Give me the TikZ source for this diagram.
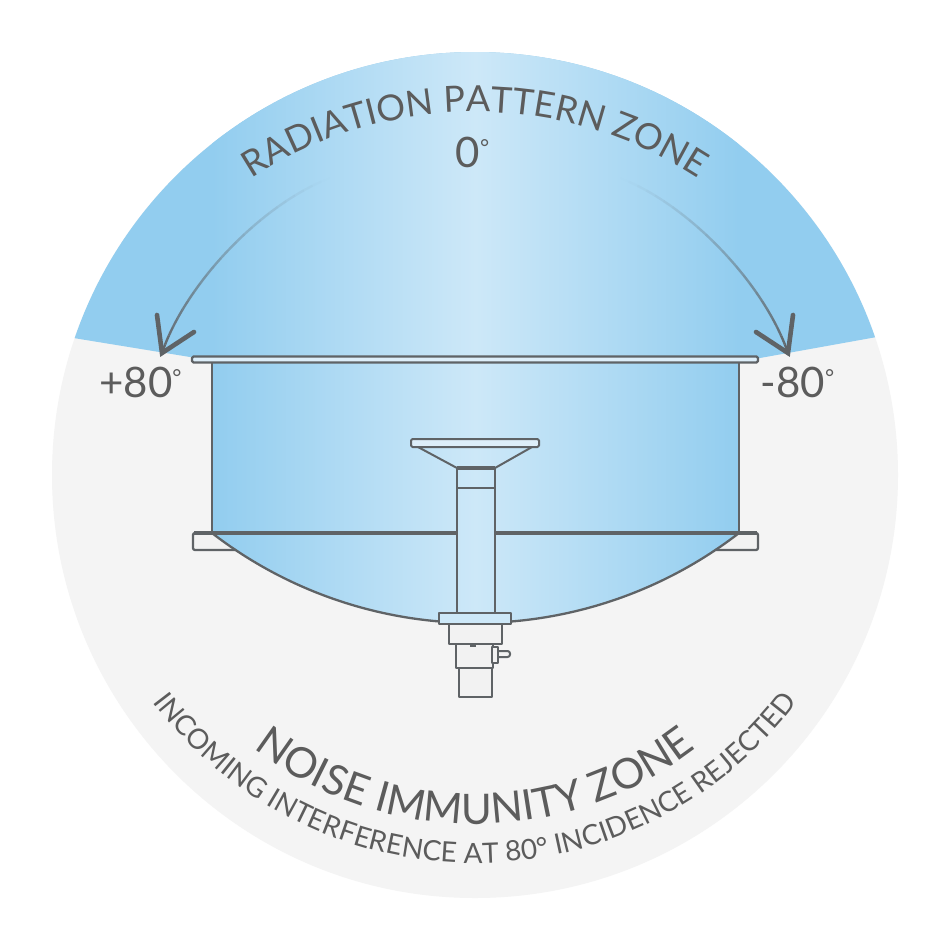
\documentclass[tikz,border=0pt]{standalone}
\usepackage{fontspec}
\setmainfont{Lato}
\usetikzlibrary{decorations.text}
\definecolor{capblue}{HTML}{92CDEF}
\definecolor{lightblue}{HTML}{CDE8F8}
\definecolor{zonegray}{HTML}{F4F4F4}
\definecolor{linegray}{HTML}{5F6366}
\definecolor{textgray}{HTML}{5C5C5C}
\definecolor{platefill}{HTML}{DDEEF9}
\definecolor{flangefill}{HTML}{F2F2F2}
\newcommand{\smalldeg}{\raisebox{12pt}{\fontsize{22}{22}\selectfont °}}
\begin{document}
\begin{tikzpicture}[x=1pt,y=-1pt,
  outline/.style={draw=linegray, line width=2.3pt, line join=round},
  thinline/.style={draw=linegray, line width=2pt, line join=round},
  arrowline/.style={draw=linegray, line width=2.4pt},
  arrowhead/.style={draw=linegray, line width=4.6pt, line cap=round, line join=miter},
  lbl/.style={font=\fontsize{42}{42}\selectfont, text=textgray, inner sep=0pt}]
\useasboundingbox (0,0) rectangle (949,948);
\fill[white] (0,0) rectangle (949,948);
\fill[zonegray] (475,475) circle[radius=423];
% blue zones
\begin{scope}
  \clip (475,475) circle[radius=423];
  \fill[capblue] (0,0) -- (949,0) -- (949,324) -- (760,358) -- (475,372) -- (190,357) -- (0,326) -- cycle;
  \clip (212,0) -- (739,0) -- (739,533) arc[start angle=52.3, end angle=127.7, radius=431] -- cycle;
  \shade[left color=capblue, right color=capblue, middle color=lightblue] (212,0) rectangle (739,640);
\end{scope}
% fading arrows
\foreach \i in {0,...,23}{
  \pgfmathsetmacro\ta{\i/24}
  \pgfmathsetmacro\tb{(\i+1)/24}
  \pgfmathsetmacro\op{((\i+0.5)/24)^1.4}
  \draw[arrowline, draw opacity=\op] plot[domain=\ta:\tb, samples=5, variable=\t]
    ({(1-\t)^3*330 + 3*(1-\t)^2*\t*260 + 3*(1-\t)*\t^2*185 + \t^3*162},
     {(1-\t)^3*178 + 3*(1-\t)^2*\t*205 + 3*(1-\t)*\t^2*285 + \t^3*353});
  \draw[arrowline, draw opacity=\op] plot[domain=\ta:\tb, samples=5, variable=\t]
    ({(1-\t)^3*620 + 3*(1-\t)^2*\t*690 + 3*(1-\t)*\t^2*765 + \t^3*788},
     {(1-\t)^3*178 + 3*(1-\t)^2*\t*205 + 3*(1-\t)*\t^2*285 + \t^3*353});
}
\draw[arrowhead] (157,315) -- (162,353) -- (194,332);
\draw[arrowhead] (793,315) -- (788,353) -- (756,332);
% dish
\draw[outline, fill=platefill, rounded corners=1.5pt] (192,356.5) rectangle (758,362.5);
\draw[outline] (212,362.5) -- (212,533);
\draw[outline] (739,362.5) -- (739,533);
\fill[flangefill] (212,533) -- (193,533) -- (193,550) -- (235.4,550) -- cycle;
\fill[flangefill] (739,533) -- (758,533) -- (758,550) -- (715.6,550) -- cycle;
\draw[outline, rounded corners=2pt] (235.4,550) -- (193,550) -- (193,533) -- (212,533);
\draw[outline, rounded corners=2pt] (715.6,550) -- (758,550) -- (758,533) -- (739,533);
\draw[outline, line width=4pt] (194,533) -- (457,533);
\draw[outline, line width=4pt] (495,533) -- (757,533);
\draw[outline] (739,533) arc[start angle=52.3, end angle=85.3, radius=431];
\draw[outline] (438.7,621.4) arc[start angle=94.9, end angle=127.7, radius=431];
% feed stem
\draw[thinline, fill=platefill, rounded corners=1.5pt] (411,439) rectangle (539,447);
\draw[thinline] (418,447) -- (457,468);
\draw[thinline] (532,447) -- (495,468);
\draw[thinline] (457,468) -- (457,613);
\draw[thinline] (495,468) -- (495,613);
\draw[thinline, line width=3.6pt] (457,468) -- (495,468);
\draw[thinline] (457,488) -- (495,488);
\draw[thinline, fill=lightblue] (439,613) rectangle (511,624);
\draw[thinline, fill=flangefill] (449,624) rectangle (502,644);
\draw[thinline, fill=flangefill] (456,644) rectangle (493,668);
\fill[linegray] (470,644) rectangle (476,647);
\draw[thinline, rounded corners=2.5pt, fill=flangefill] (498,651) -- (510,651) -- (510,657) -- (498,657);
\draw[thinline, fill=flangefill] (492,647) rectangle (498,663);
\draw[thinline, fill=flangefill] (459,668) rectangle (492,697);
% straight labels
\node[lbl, anchor=base] (p80) at (140.5,397) {+80\smalldeg};
\node[lbl, anchor=base] (m80) at (797.5,397) {-80\smalldeg};
\node[lbl, anchor=base] (z0) at (472.5,167) {0\smalldeg};
% curved labels
\path[decorate, decoration={text along path, text align=center, text color=textgray,
   text={|\fontsize{36}{36}\selectfont|RADIATION PATTERN ZONE}}]
   (475,520) ++(-150:408) arc[start angle=-150, end angle=-30, radius=408];
\path[decorate, decoration={text along path, text align=center, text color=textgray,
   text={|\fontsize{42}{42}\selectfont|NOISE IMMUNITY ZONE}}]
   (475,462) ++(170:362) arc[start angle=170, end angle=10, radius=362];
\path[decorate, decoration={text along path, text align=center, text color=textgray,
   text={|\fontsize{28}{28}\selectfont|INCOMING INTERFERENCE AT 80° INCIDENCE REJECTED}}]
   (475,460) ++(170:403) arc[start angle=170, end angle=10, radius=403];
\end{tikzpicture}
\end{document}
